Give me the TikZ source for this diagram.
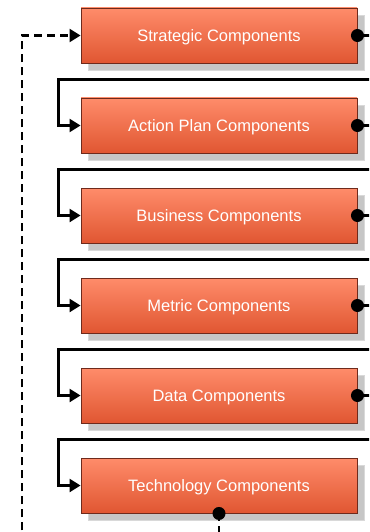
\documentclass[tikz,border=0pt]{standalone}
\usepackage{fontspec}
\setmainfont{Liberation Sans}
\usepackage{tikz}
\usepackage{xcolor}
\usetikzlibrary{arrows.meta,positioning}
\definecolor{comptop}{HTML}{FF8C6A}
\definecolor{compbot}{HTML}{E05632}
\definecolor{compline}{HTML}{6E2A1C}
\tikzset{
  comp/.style={draw=compline,line width=0.9pt,top color=comptop,bottom color=compbot,minimum width=276pt,minimum height=55pt,text=white,font=\fontsize{16.5}{19}\selectfont,inner sep=0pt,text depth=-2pt},
  shade/.style={fill=gray!45,draw=gray!30,line width=0.5pt},
  link/.style={line width=2.4pt,-{Triangle[length=11pt,width=13pt]}},
  feed/.style={line width=2.4pt,dash pattern=on 8pt off 5pt,-{Triangle[length=11pt,width=13pt]}}
}
\begin{document}
\begin{tikzpicture}[x=1pt,y=-1pt]
\useasboundingbox (0,0) rectangle (369,532);
\clip (0,0) rectangle (369,532);
\fill[white] (0,0) rectangle (369,532);
\foreach \y in {35.5,125.5,215.5,305.5,395.5,485.5}
  \draw[shade] (88,\y-20.5) rectangle (364,\y+34.5);
\node[comp] (strat) at (219,35.5) {Strategic Components};
\node[comp] (plan) at (219,125.5) {Action Plan Components};
\node[comp] (bus) at (219,215.5) {Business Components};
\node[comp] (metric) at (219,305.5) {Metric Components};
\node[comp] (data) at (219,395.5) {Data Components};
\node[comp] (tech) at (219,485.5) {Technology Components};
\foreach \a/\b in {strat/plan,plan/bus,bus/metric,metric/data,data/tech}{
  \draw[link] (\a.east) -- ++(25,0) |- ([yshift=18pt]\b.north) -| ([xshift=-22pt]\b.west) -- (\b.west);
  \fill (\a.east) circle (6.5pt);
}
\draw[feed] (tech.south) -- ++(0,40) -| (22,60) |- (strat.west);
\fill (tech.south) circle (6.5pt);
\end{tikzpicture}
\end{document}
